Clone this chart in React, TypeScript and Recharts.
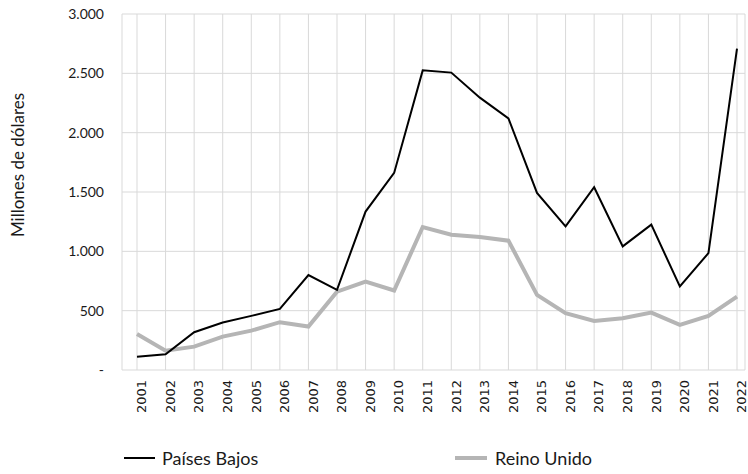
import { LineChart, Line, XAxis, YAxis, CartesianGrid, Legend } from 'recharts'

const years = [
  '2001', '2002', '2003', '2004', '2005', '2006', '2007', '2008', '2009', '2010', '2011',
  '2012', '2013', '2014', '2015', '2016', '2017', '2018', '2019', '2020', '2021', '2022',
]

const paisesBajos = [
  112, 132, 318, 400, 456, 515, 800, 675, 1335, 1661, 2525,
  2506, 2295, 2120, 1492, 1210, 1540, 1042, 1225, 704, 985, 2709,
]

const reinoUnido = [
  304, 163, 197, 281, 332, 403, 366, 660, 745, 670, 1205,
  1140, 1121, 1090, 633, 479, 414, 436, 484, 380, 456, 619,
]

const yTicks = [0, 500, 1000, 1500, 2000, 2500, 3000]

const data = years.map((year, i) => ({
  year,
  pb: paisesBajos[i],
  ru: reinoUnido[i],
}))

const labelFont = "Lato, 'Open Sans', sans-serif"

const formatY = (v: number) =>
  v === 0 ? '-' : String(v).replace(/\B(?=(\d{3})+(?!\d))/g, '.')

const YLabel = ({ viewBox }: { viewBox?: { x: number; y: number; width: number; height: number } }) => {
  if (!viewBox) return null
  const x = viewBox.x + 17
  const y = viewBox.y + viewBox.height / 2 - 27
  return (
    <text
      x={x}
      y={y}
      transform={`rotate(-90, ${x}, ${y})`}
      textAnchor="middle"
      dominantBaseline="central"
      fontFamily={labelFont}
      fontSize={17}
      fill="#1a1a1a"
    >
      Millones de dólares
    </text>
  )
}

const LegendContent = () => (
  <div style={{ position: 'relative', height: 28, fontFamily: labelFont, fontSize: 18, color: '#1a1a1a' }}>
    <div style={{ position: 'absolute', left: 124, top: 0, display: 'flex', alignItems: 'center', height: 28 }}>
      <span style={{ display: 'inline-block', width: 31, height: 2, background: '#000', marginRight: 7 }} />
      Países Bajos
    </div>
    <div style={{ position: 'absolute', left: 455, top: 0, display: 'flex', alignItems: 'center', height: 28 }}>
      <span style={{ display: 'inline-block', width: 32, height: 4, background: '#b5b5b5', marginRight: 8 }} />
      Reino Unido
    </div>
  </div>
)

export default function App() {
  return (
    <div style={{ position: 'absolute', left: 0, top: 0, width: 748, height: 474, background: '#fff' }}>
      <LineChart width={748} height={474} data={data} margin={{ top: 14, right: 3, left: 0, bottom: 2 }}>
        <CartesianGrid stroke="#d9d9d9" strokeWidth={1} />
        <XAxis
          dataKey="year"
          interval={0}
          padding={{ left: 15, right: 8 }}
          axisLine={false}
          tickLine={false}
          height={74}
          angle={-90}
          textAnchor="end"
          tick={{ fontFamily: 'DejaVu Sans, sans-serif', fontSize: 13, fill: '#1a1a1a', dy: -4, dx: 0 }}
          tickMargin={8}
        />
        <YAxis
          domain={[0, 3000]}
          ticks={yTicks}
          width={122}
          axisLine={false}
          tickLine={false}
          tickFormatter={formatY}
          tick={{ fontFamily: labelFont, fontSize: 14, fill: '#1a1a1a' }}
          tickMargin={12}
          label={<YLabel />}
        />
        <Legend verticalAlign="bottom" height={28} content={<LegendContent />} wrapperStyle={{ left: 0, width: 748 }} />
        <Line
          dataKey="ru"
          name="Reino Unido"
          stroke="#b5b5b5"
          strokeWidth={4}
          dot={false}
          isAnimationActive={false}
        />
        <Line
          dataKey="pb"
          name="Países Bajos"
          stroke="#000"
          strokeWidth={2}
          dot={false}
          isAnimationActive={false}
        />
      </LineChart>
    </div>
  )
}
